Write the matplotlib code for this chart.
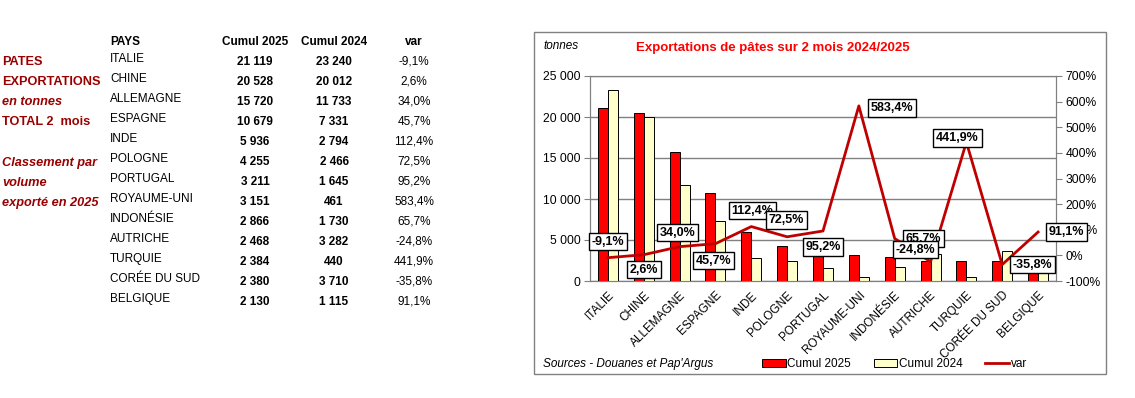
import matplotlib
matplotlib.use("Agg")
from matplotlib import pyplot as plt
from matplotlib.patches import Rectangle, Patch
from matplotlib.lines import Line2D
import numpy as np

plt.rcParams['font.family'] = ['Liberation Sans', 'DejaVu Sans']

pays = ["ITALIE", "CHINE", "ALLEMAGNE", "ESPAGNE", "INDE", "POLOGNE", "PORTUGAL",
        "ROYAUME-UNI", "INDONÉSIE", "AUTRICHE", "TURQUIE", "CORÉE DU SUD", "BELGIQUE"]
cumul_2025 = [21119, 20528, 15720, 10679, 5936, 4255, 3211, 3151, 2866, 2468, 2384, 2380, 2130]
cumul_2024 = [23240, 20012, 11733, 7331, 2794, 2466, 1645, 461, 1730, 3282, 440, 3710, 1115]
var = [-9.1, 2.6, 34.0, 45.7, 112.4, 72.5, 95.2, 583.4, 65.7, -24.8, 441.9, -35.8, 91.1]

# label offsets in pixels (dx, dy) relative to each point of the var line
label_off = [(0, 16), (0, -15), (-2, 14), (-2, -17), (1, 16), (-1, 17), (0, -16),
             (33, -2), (29, 0), (-15, 12), (-9, 4), (30, 0), (28, 0)]

W, H = 1135, 398
fig = plt.figure(figsize=(W / 100, H / 100), dpi=100)


def fx(px):
    return px / W


def fy(py):
    return 1 - py / H


def fmt_num(v):
    return f"{v:,}".replace(",", " ")


def fmt_pct(v):
    return f"{v:.1f}%".replace(".", ",")


# ---- left table ----
dark_red = "#990000"
fs = 8.5
fig.text(fx(110), fy(42), "PAYS", fontsize=fs, fontweight="bold", va="center")
fig.text(fx(255), fy(42), "Cumul 2025", fontsize=fs, fontweight="bold", va="center", ha="center")
fig.text(fx(334), fy(42), "Cumul 2024", fontsize=fs, fontweight="bold", va="center", ha="center")
fig.text(fx(414), fy(42), "var", fontsize=fs, fontweight="bold", va="center", ha="center")
for i, p in enumerate(pays):
    y = 59 + 20 * i
    fig.text(fx(110), fy(y), p, fontsize=fs, va="center")
    fig.text(fx(255), fy(y + 3), fmt_num(cumul_2025[i]), fontsize=fs, fontweight="bold", va="center", ha="center")
    fig.text(fx(334), fy(y + 3), fmt_num(cumul_2024[i]), fontsize=fs, fontweight="bold", va="center", ha="center")
    fig.text(fx(414), fy(y + 3), fmt_pct(var[i]), fontsize=fs, va="center", ha="center")

side = [("PATES", 62, "normal"), ("EXPORTATIONS", 82, "normal"), ("en tonnes", 102, "italic"),
        ("TOTAL 2  mois", 122, "normal"), ("Classement par", 163, "italic"),
        ("volume", 183, "italic"), ("exporté en 2025", 203, "italic")]
for t, y, st in side:
    fig.text(fx(2), fy(y), t, fontsize=9.2, fontweight="bold", fontstyle=st, color=dark_red, va="center")

# ---- chart box ----
fig.patches.append(Rectangle((fx(534), fy(374)), fx(1106 - 534), (374 - 32) / H,
                             transform=fig.transFigure, fill=False, ec="#808080", lw=1))

ax = fig.add_axes([fx(590), fy(281), fx(1056 - 590), (281 - 76) / H])
ax2 = ax.twinx()

x = np.arange(len(pays))
bw = 0.28
ax.bar(x - bw / 2, cumul_2025, bw, color="#FF0000", edgecolor="black", lw=0.7, zorder=3)
ax.bar(x + bw / 2, cumul_2024, bw, color="#FFFFCC", edgecolor="black", lw=0.7, zorder=3)
ax.set_xlim(-0.5, len(pays) - 0.5)
ax.set_ylim(0, 25000)
ax.set_yticks(np.arange(0, 25001, 5000))
ax.set_yticklabels([fmt_num(v) for v in range(0, 25001, 5000)], fontsize=8.7)
ax.yaxis.grid(True, color="#808080", lw=1, zorder=0)
ax.set_axisbelow(True)
ax.set_xticks(x)
ax.set_xticklabels(pays, rotation=45, ha="right", rotation_mode="anchor", fontsize=8.5)
ax.tick_params(axis="x", length=0, pad=6)
ax.tick_params(axis="y", length=4, color="#808080", pad=3)

ax2.plot(x, var, color="#C00000", lw=2, zorder=4)
ax2.set_ylim(-100, 700)
ax2.set_yticks(np.arange(-100, 701, 100))
ax2.set_yticklabels([f"{v}%" for v in range(-100, 701, 100)], fontsize=8.7)
ax2.tick_params(axis="y", length=4, color="#808080", pad=3)

for a in (ax, ax2):
    for s in a.spines.values():
        s.set_color("#808080")

for i, v in enumerate(var):
    ax2.annotate(fmt_pct(v), (x[i], v), xytext=label_off[i], textcoords="offset pixels",
                 ha="center", va="center", fontsize=9, fontweight="bold", zorder=6,
                 bbox=dict(boxstyle="square,pad=0.22", fc="white", ec="black", lw=1))

fig.text(fx(543), fy(46), "tonnes", fontsize=8.5, fontstyle="italic", va="center")
fig.text(fx(773), fy(48), "Exportations de pâtes sur 2 mois 2024/2025", fontsize=9.5,
         fontweight="bold", color="#FF0000", ha="center", va="center")
fig.text(fx(543), fy(364), "Sources - Douanes et Pap'Argus", fontsize=8.5, fontstyle="italic", va="center")

handles = [Patch(fc="#FF0000", ec="black", lw=0.7), Patch(fc="#FFFFCC", ec="black", lw=0.7),
           Line2D([0], [0], color="#C00000", lw=2)]
fig.legend(handles, ["Cumul 2025", "Cumul 2024", "var"], loc="center left",
           bbox_to_anchor=(fx(762), fy(364)), ncol=3, frameon=False, fontsize=8.5,
           handlelength=2.0, handleheight=0.6, handletextpad=0.15, columnspacing=1.9,
           borderpad=0, borderaxespad=0)

fig.savefig("out.png", dpi=100)
